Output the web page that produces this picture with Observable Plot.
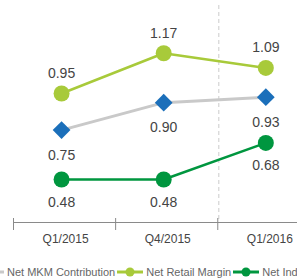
<!DOCTYPE html>
<html><head><meta charset="utf-8">
<script src="https://cdn.jsdelivr.net/npm/d3@7"></script>
<script src="https://cdn.jsdelivr.net/npm/@observablehq/plot@0.6"></script>
<style>
html,body{margin:0;padding:0;background:#fff;overflow:hidden;width:297px;height:280px}
#wrap{position:relative;width:297px;height:280px;overflow:hidden;font-family:"Liberation Sans",Arial,Helvetica,sans-serif}
#chart{position:absolute;left:0;top:0}
#unit{position:absolute;left:15px;top:-15px;font-size:13px;color:#555;white-space:nowrap}
#legend{position:absolute;left:-22px;top:265px;white-space:nowrap;font-size:11px;color:#666;display:flex;align-items:center;line-height:14px}
.item{display:flex;align-items:center;margin-right:2px}
.item svg{margin-right:3px;display:block}
</style></head><body>
<div id="wrap"><div id="chart"></div><div id="unit">(EUR ct/kWh)</div><div id="legend"></div></div>
<script>
const categories = ["Q1/2015", "Q4/2015", "Q1/2016"];
const seriesNames = ["Net MKM Contribution", "Net Retail Margin", "Net Industrial Margin"];
const mkmValues = [0.75, 0.90, 0.93];
const retailValues = [0.95, 1.17, 1.09];
const industrialValues = [0.48, 0.48, 0.68];

const seriesValues = [mkmValues, retailValues, industrialValues];
const lineColors = ["#c9c9c9", "#a8ca3a", "#00963f"];
const dotColors = ["#1b6fba", "#a8ca3a", "#00963f"];
const symbols = ["diamond2", "circle", "circle"];
const labelDy = [25, -20, 23];
const lineWidths = [3, 2.5, 2.5];

const idx = categories.map((_, i) => i);
const boundaries = categories.map((_, i) => i - 0.5);

const marks = [
  Plot.ruleX([boundaries[boundaries.length - 1]], {stroke: "#d4d4d4", strokeDasharray: "4,3", strokeWidth: 1.2, dx: 4}),
  Plot.frame({anchor: "bottom", stroke: "#8a8a8a", dx: 3}),
  Plot.axisX(boundaries, {tickSize: 12, dy: -4, dx: 3, tickFormat: () => "", stroke: "#8a8a8a", label: null}),
  Plot.axisX(idx, {tickSize: 0, tickPadding: 12, tickFormat: i => categories[i], fontSize: 12, color: "#444", dx: 4, label: null})
];
seriesValues.forEach((vals, s) => {
  const rows = vals.map((v, i) => ({i, v}));
  marks.push(Plot.line(rows, {x: "i", y: "v", stroke: lineColors[s], strokeWidth: lineWidths[s]}));
});
seriesValues.forEach((vals, s) => {
  const rows = vals.map((v, i) => ({i, v}));
  marks.push(Plot.dot(rows, {x: "i", y: "v", fill: dotColors[s], stroke: "none", symbol: symbols[s], r: 8}));
  marks.push(Plot.text(rows, {x: "i", y: "v", text: d => d.v.toFixed(2), dy: labelDy[s], fontSize: 14, fill: "#444"}));
});

const chart = Plot.plot({
  width: 297, height: 252,
  marginLeft: 10, marginRight: 0, marginTop: 5, marginBottom: 30,
  style: {fontFamily: "'Liberation Sans', Arial, Helvetica, sans-serif", background: "transparent", overflow: "visible"},
  x: {type: "linear", domain: [-0.5, 2.31]},
  y: {domain: [0.245, 1.431], axis: null},
  marks
});
document.getElementById("chart").appendChild(chart);

const legend = document.getElementById("legend");
seriesNames.forEach((name, s) => {
  const item = document.createElement("div");
  item.className = "item";
  const sym = symbols[s] === "circle"
    ? `<circle cx="13" cy="7" r="4.5" fill="${dotColors[s]}"/>`
    : `<path d="M13,1.5L18.5,7L13,12.5L7.5,7Z" fill="${dotColors[s]}"/>`;
  item.innerHTML = `<svg width="26" height="14"><line x1="0" x2="26" y1="7" y2="7" stroke="${lineColors[s]}" stroke-width="3"/>${sym}</svg><span>${name}</span>`;
  legend.appendChild(item);
});
</script>
</body></html>
